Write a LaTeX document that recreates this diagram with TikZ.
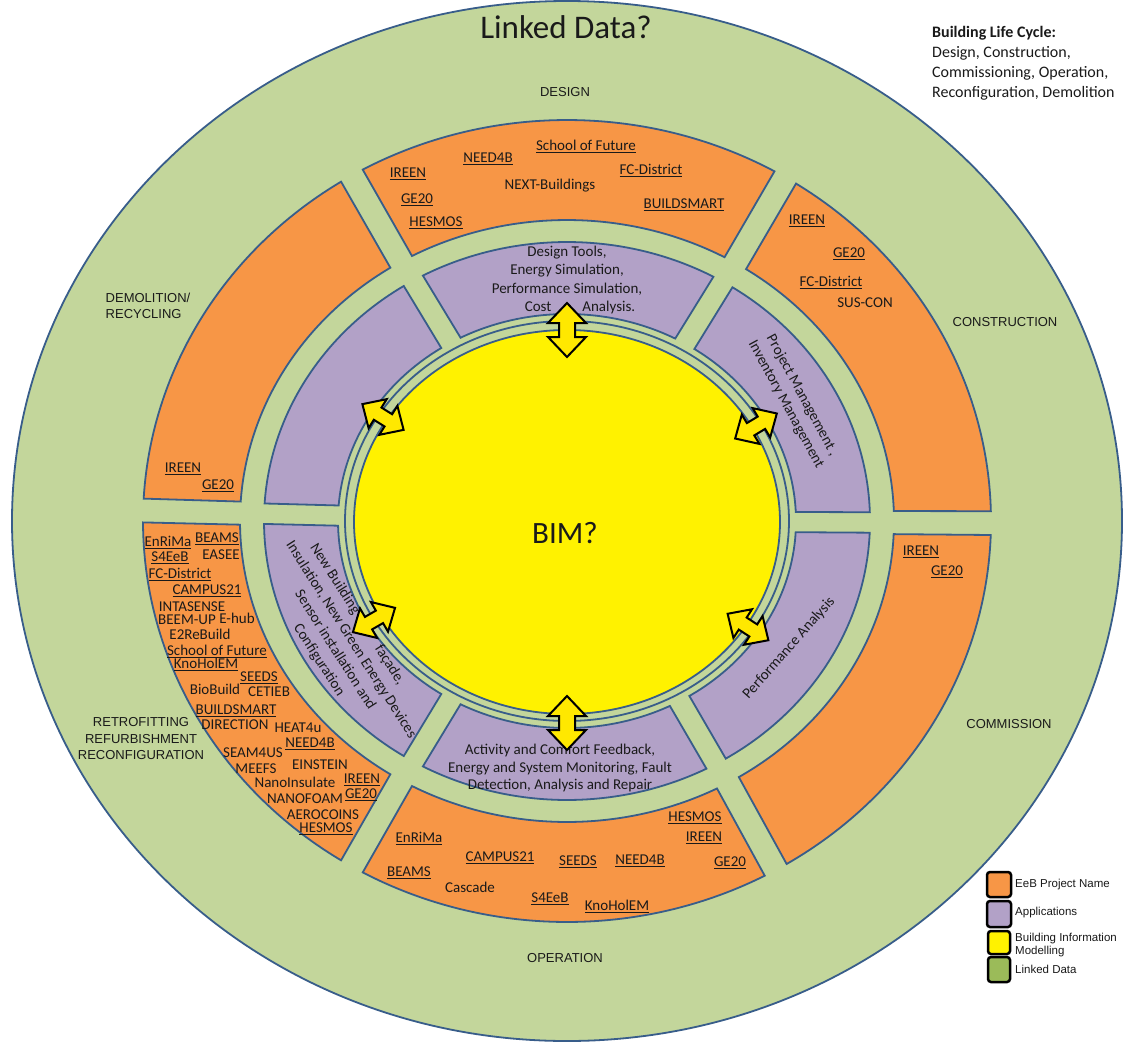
\documentclass[tikz,border=0pt]{standalone}
\usepackage{fontspec}
\setmainfont{Carlito}
\newfontfamily\arialf{Liberation Sans}
\definecolor{ldgreen}{HTML}{C3D69B}
\definecolor{eeborange}{HTML}{F79646}
\definecolor{appviolet}{HTML}{B2A1C7}
\definecolor{edgeblue}{HTML}{385D8A}
\definecolor{legendgreen}{HTML}{9BBB59}
\definecolor{arrowyellow}{HTML}{FFE800}
\definecolor{inkdark}{HTML}{1A1A1A}
\newsavebox\ulbox
\newcommand\uln[1]{\sbox\ulbox{#1}\rlap{\rule[-2.6pt]{\wd\ulbox}{1.1pt}}\usebox\ulbox}
\newcommand\orangeseg[2]{\path[orangeband] (#1+1.7:424 and 401) arc[start angle=#1+1.7, end angle=#2-1.7, x radius=424, y radius=401] -- (#2-2.2:327 and 301) arc[start angle=#2-2.2, end angle=#1+2.2, x radius=327, y radius=301] -- cycle;}
\newcommand\violetseg[2]{\path[violetband] (#1+2.1:303 and 279) arc[start angle=#1+2.1, end angle=#2-2.1, x radius=303, y radius=279] -- (#2-2.8:229 and 207) arc[start angle=#2-2.8, end angle=#1+2.8, x radius=229, y radius=207] -- cycle;}
\newcommand\biarrow[4]{\path[biarrowstyle, shift={(#1,#2)}, rotate=#3, scale=#4] (-27,0) -- (-7,19) -- (-7,8) -- (7,8) -- (7,19) -- (27,0) -- (7,-19) -- (7,-8) -- (-7,-8) -- (-7,-19) -- cycle;}
\newcommand\ofont{\fontsize{15}{18}\selectfont}
\newcommand\afont{\fontsize{15}{18.5}\selectfont}
\newcommand\lcfont{\fontsize{16}{20}\selectfont}
\begin{document}
\begin{tikzpicture}[x=1pt,y=1pt,
  outerring/.style={fill=ldgreen, draw=edgeblue, line width=1.8pt},
  orangeband/.style={fill=eeborange, draw=edgeblue, line width=1.8pt, line join=miter},
  violetband/.style={fill=appviolet, draw=edgeblue, line width=1.8pt, line join=miter},
  bandring/.style={fill=ldgreen, draw=edgeblue, line width=1.8pt},
  bimdisc/.style={fill=yellow, draw=edgeblue, line width=1.8pt},
  biarrowstyle/.style={fill=arrowyellow, draw=black, line width=2pt, line join=miter},
  ot/.style={font=\ofont, text=inkdark, inner sep=0pt, anchor=base},
  apptext/.style={font=\afont, text=inkdark, inner sep=0pt, align=center},
  lcline/.style={font=\lcfont, text=inkdark, inner sep=0pt, anchor=base west},
  stage/.style={font=\arialf\fontsize{13}{16.5}\selectfont, text=inkdark, inner sep=0pt, align=center},
  legtext/.style={font=\arialf\fontsize{11.5}{12.5}\selectfont, text=inkdark, inner sep=0pt, anchor=west, align=left},
  legbox/.style={draw=black, line width=2.5pt, rounded corners=3pt}]
\useasboundingbox (0,0) rectangle (1130,-1044);
\fill[white] (0,0) rectangle (1130,-1044);
\path[outerring] (567,-521) ellipse [x radius=555, y radius=520];
\begin{scope}[shift={(567,-521)}]
  \orangeseg{-0.3}{59}
  \orangeseg{59}{120.5}
  \orangeseg{120.5}{178.5}
  \orangeseg{178.5}{239.5}
  \orangeseg{239.5}{299.5}
  \orangeseg{299.5}{359.7}
  \violetseg{-0.3}{59}
  \violetseg{59}{120.5}
  \violetseg{120.5}{178.5}
  \violetseg{178.5}{239.5}
  \violetseg{239.5}{299.5}
  \violetseg{299.5}{359.7}
  \path[bandring] (0,0) ellipse [x radius=222, y radius=200];
  \path[bimdisc] (0,-1) ellipse [x radius=213, y radius=192];
\end{scope}
% titles
\node[font=\fontsize{33}{36}\selectfont, text=inkdark, inner sep=0pt] (title) at (566,-27) {Linked Data?};
\node[font=\fontsize{31}{34}\selectfont, text=inkdark, inner sep=0pt] (bim) at (565,-533) {BIM?};
\node[lcline, font=\bfseries\lcfont] (blc1) at (932,-37) {Building Life Cycle:};
\node[lcline] (blc2) at (932,-57) {Design, Construction,};
\node[lcline] (blc3) at (932,-77) {Commissioning, Operation,};
\node[lcline] (blc4) at (932,-97) {Reconfiguration, Demolition};
% stage labels
\node[stage] (sDesign) at (565,-92) {DESIGN};
\node[stage] (sConstr) at (1005,-322) {CONSTRUCTION};
\node[stage] (sComm) at (1009,-724) {COMMISSION};
\node[stage] (sOper) at (565,-958) {OPERATION};
\node[stage, align=left] (sDemol) at (148,-306) {DEMOLITION/\\RECYCLING};
\node[stage] (sRetro) at (141,-739) {RETROFITTING\\REFURBISHMENT\\RECONFIGURATION};
% design orange
\node[ot] (d1) at (586,-150) {\uln{School of Future}};
\node[ot] (d2) at (488,-162) {\uln{NEED4B}};
\node[ot] (d3) at (408,-177) {\uln{IREEN}};
\node[ot] (d4) at (651,-174) {\uln{FC-District}};
\node[ot] (d5) at (550,-189) {NEXT-Buildings};
\node[ot] (d6) at (417,-203) {\uln{GE20}};
\node[ot] (d7) at (684,-208) {\uln{BUILDSMART}};
\node[ot] (d8) at (436,-226) {\uln{HESMOS}};
% construction orange
\node[ot] (c1) at (807,-224) {\uln{IREEN}};
\node[ot] (c2) at (849,-257) {\uln{GE20}};
\node[ot] (c3) at (831,-286) {\uln{FC-District}};
\node[ot] (c4) at (865,-307) {SUS-CON};
% commission orange
\node[ot] (m1) at (921,-555) {\uln{IREEN}};
\node[ot] (m2) at (947,-575) {\uln{GE20}};
% operation orange
\node[ot] (o1) at (695,-821) {\uln{HESMOS}};
\node[ot] (o2) at (704,-841) {\uln{IREEN}};
\node[ot] (o3) at (419,-842) {\uln{EnRiMa}};
\node[ot] (o4) at (500,-861) {\uln{CAMPUS21}};
\node[ot] (o5) at (578,-865) {\uln{SEEDS}};
\node[ot] (o6) at (640,-864) {\uln{NEED4B}};
\node[ot] (o7) at (730,-866) {\uln{GE20}};
\node[ot] (o8) at (409,-876) {\uln{BEAMS}};
\node[ot] (o9) at (470,-892) {Cascade};
\node[ot] (o10) at (550,-902) {\uln{S4EeB}};
\node[ot] (o11) at (617,-910) {\uln{KnoHolEM}};
% demolition orange
\node[ot] (x1) at (183,-472) {\uln{IREEN}};
\node[ot] (x2) at (218,-489) {\uln{GE20}};
% retrofitting orange
\node[ot] (r1) at (168,-546) {\uln{EnRiMa}};
\node[ot] (r2) at (217,-542) {\uln{BEAMS}};
\node[ot] (r3) at (170,-561) {\uln{S4EeB}};
\node[ot] (r4) at (221,-559) {EASEE};
\node[ot] (r5) at (180,-578) {\uln{FC-District}};
\node[ot] (r6) at (207,-594) {\uln{CAMPUS21}};
\node[ot] (r7) at (192,-611) {INTASENSE};
\node[ot] (r8) at (187,-624) {BEEM-UP};
\node[ot] (r9) at (237,-623) {E-hub};
\node[ot] (r10) at (200,-639) {E2ReBuild};
\node[ot] (r11) at (217,-655) {\uln{School of Future}};
\node[ot] (r12) at (206,-668) {\uln{KnoHolEM}};
\node[ot] (r13) at (259,-681) {\uln{SEEDS}};
\node[ot] (r14) at (215,-694) {BioBuild};
\node[ot] (r15) at (269,-696) {CETIEB};
\node[ot] (r16) at (236,-714) {\uln{BUILDSMART}};
\node[ot] (r17) at (235,-729) {DIRECTION};
\node[ot] (r18) at (298,-732) {HEAT4u};
\node[ot] (r19) at (310,-747) {\uln{NEED4B}};
\node[ot] (r20) at (253,-757) {SEAM4US};
\node[ot] (r21) at (320,-769) {EINSTEIN};
\node[ot] (r22) at (256,-773) {MEEFS};
\node[ot] (r23) at (295,-787) {NanoInsulate};
\node[ot] (r24) at (362,-783) {\uln{IREEN}};
\node[ot] (r25) at (305,-803) {NANOFOAM};
\node[ot] (r26) at (361,-798) {\uln{GE20}};
\node[ot] (r27) at (323,-819) {AEROCOINS};
\node[ot] (r28) at (326,-832) {\uln{HESMOS}};
% applications
\node[apptext] (aDesign) at (567,-280) {Design Tools,\\Energy Simulation,\\Performance Simulation,\\\hspace*{26pt}Cost\hspace{31pt}Analysis.};
\node[apptext, rotate=-61.5] (aPM) at (794,-400) {Project Management ,\\Inventory Management};
\node[apptext, rotate=48.5] (aPA) at (789,-648) {Performance Analysis};
\node[apptext, font=\fontsize{15}{17.5}\selectfont] (aAct) at (560,-768) {Activity and Comfort Feedback,\\Energy and System Monitoring, Fault\\Detection, Analysis and Repair};
\node[apptext, rotate=-57.5, font=\fontsize{15}{19}\selectfont] (aNew) at (343,-645) {New Building\hspace{40pt}façade,\hspace*{36pt}\\Insulation, New Green Energy Devices\\Sensor installation and\\Configuration};
% arrows
\biarrow{567}{-330}{90}{1}
\biarrow{567}{-723}{90}{1}
\biarrow{383}{-417}{-32}{0.9}
\biarrow{756}{-426}{31}{0.9}
\biarrow{374}{-620}{30}{0.9}
\biarrow{748}{-627}{-33}{0.9}
% legend
\path[legbox, fill=eeborange] (987,-872) rectangle (1011,-897);
\path[legbox, fill=appviolet] (987,-901) rectangle (1011,-927);
\path[legbox, fill=yellow] (988,-931) rectangle (1010,-954);
\path[legbox, fill=legendgreen] (988,-957) rectangle (1010,-982);
\node[legtext] (l1) at (1015,-885) {EeB Project Name};
\node[legtext] (l2) at (1015,-913) {Applications};
\node[legtext] (l3) at (1015,-945) {Building Information\\Modelling};
\node[legtext] (l4) at (1015,-969) {Linked Data};
\end{tikzpicture}
\end{document}
